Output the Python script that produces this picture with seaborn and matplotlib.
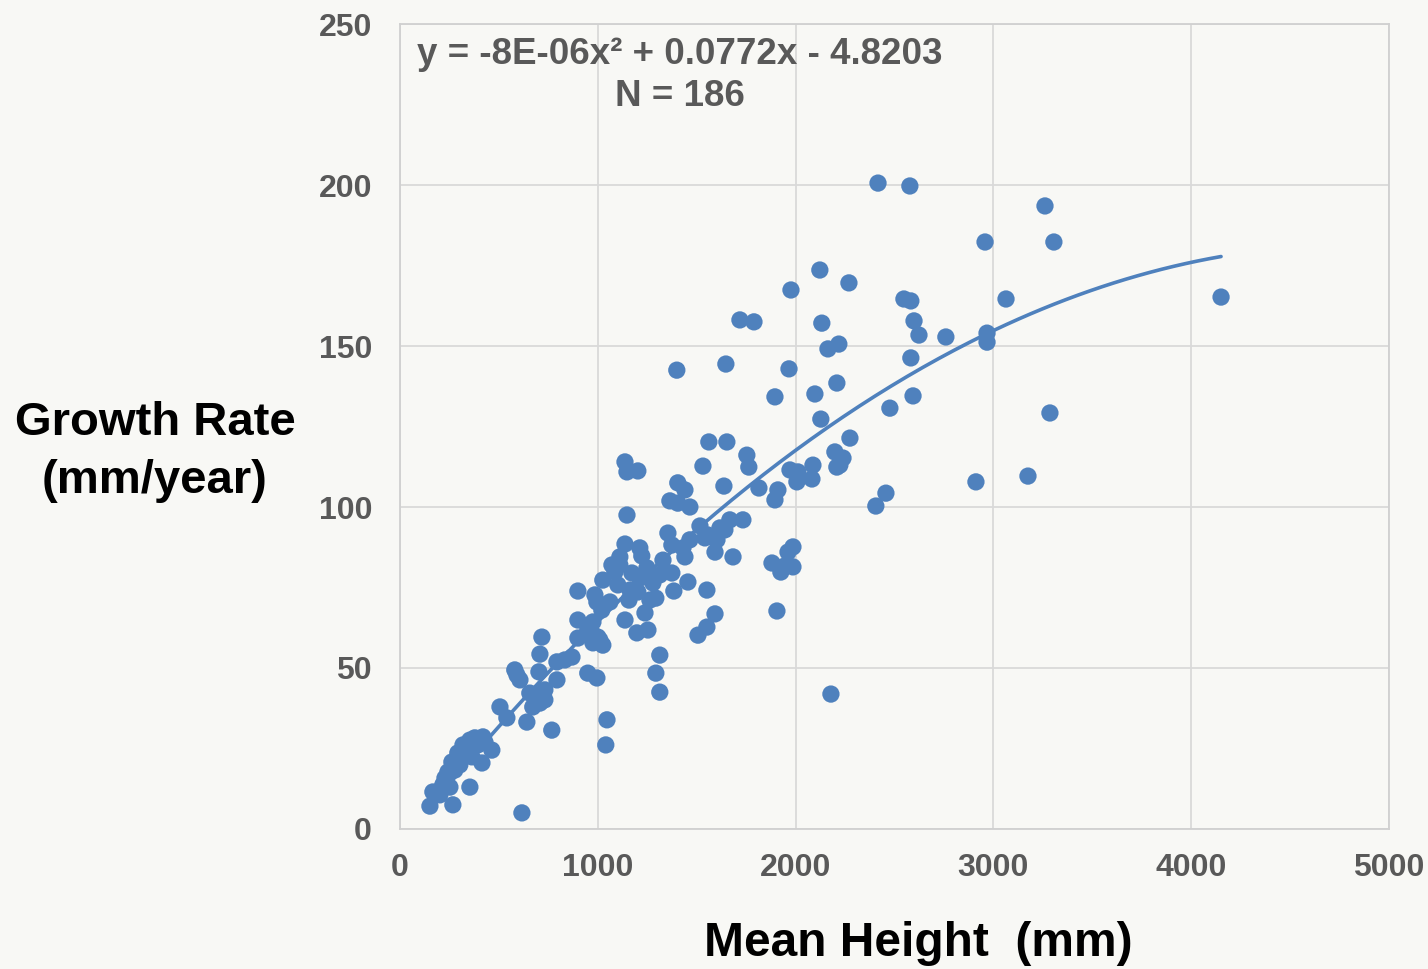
import matplotlib.pyplot as plt
import numpy as np
import pandas as pd
import seaborn as sns

# mean height (mm) and growth rate (mm/year)
height = [
    152, 268, 617, 167, 217, 253, 354, 243, 263, 293, 339, 364, 415, 379, 420, 465,
    506, 541, 642, 768, 581, 592, 657, 708, 672, 708, 703, 708, 718, 794, 794, 870,
    900, 900, 900, 950, 996, 971, 1001, 1026, 976, 996, 1026, 1062, 1047, 1041,
    228, 319, 394, 278, 202, 683, 733, 950, 1011,
    1138, 1148, 1203, 1562, 1653, 1754, 1764, 1532, 1638, 1405, 1441, 1365, 1405, 1466,
    1148, 1815, 1911, 1896, 1972, 2012, 2007, 2088, 2083, 2199, 2240, 2209, 2275,
    1517, 1618, 1668, 1734, 1557, 1603, 1593, 1684, 1355, 1375, 1441, 1138, 1112, 1223,
    1987, 1962, 1881, 1931, 1987, 1906, 2179, 1087, 1173, 1249, 1279, 1375, 1456, 1552,
    1593, 1552, 1507, 1294, 1385, 1138, 1239, 1198, 1254, 1158, 1203, 976, 1314, 1294,
    1314, 1102, 1163, 1213, 1264, 1314, 1330, 1072, 1643, 1213, 1431, 1466,
    2417, 2578, 3261, 2958, 3306, 2123, 2270, 1977, 1719, 1790, 2133, 2548, 2583, 3064,
    4151, 2599, 2624, 2760, 2968, 2968, 2219, 2164, 1648, 1967, 2583, 2209, 1896, 2098,
    2594, 2477, 3286, 2128, 1400, 2912, 3175, 2457, 2406, 2224, 1946, 1926,
    303, 354, 430, 607, 733, 1021, 1112, 1542, 986, 834,
]
growth = [
    7.1, 7.5, 5.0, 11.5, 13.7, 13.0, 13.0, 17.7, 20.8, 23.6, 24.5, 22.4, 20.5, 28.3, 28.6, 24.5,
    37.9, 34.5, 33.2, 30.7, 49.4, 47.8, 42.2, 41.0, 37.9, 39.1, 48.8, 54.3, 59.6, 51.9, 46.3, 53.4,
    59.3, 64.9, 73.9, 48.4, 46.9, 60.9, 59.6, 57.1, 57.8, 70.5, 77.3, 70.5, 33.9, 26.1,
    15.8, 26.1, 26.1, 18.3, 10.6, 41.6, 40.1, 61.8, 58.7,
    114.0, 110.9, 111.2, 120.2, 120.2, 116.1, 112.4, 112.7, 106.5, 107.5, 105.3, 101.9, 101.2, 100.0,
    97.5, 105.9, 105.3, 102.2, 111.5, 110.9, 107.8, 113.0, 108.7, 117.1, 115.2, 112.4, 121.4,
    94.1, 93.5, 96.0, 96.0, 91.3, 89.8, 86.0, 84.5, 91.9, 88.2, 84.5, 88.5, 84.5, 84.8,
    87.6, 86.0, 82.6, 81.1, 81.4, 67.7, 41.9, 79.8, 79.5, 81.1, 76.4, 79.5, 76.7, 74.2,
    66.8, 62.7, 60.2, 71.7, 73.9, 64.9, 67.1, 60.9, 61.8, 71.1, 73.6, 64.3, 54.0, 48.4,
    42.5, 75.8, 74.2, 77.9, 71.1, 78.9, 83.5, 82.0, 92.9, 87.3, 87.3, 89.8,
    200.6, 199.7, 193.5, 182.3, 182.3, 173.6, 169.6, 167.4, 158.1, 157.5, 157.1, 164.6, 164.0, 164.6,
    165.2, 157.8, 153.4, 152.8, 154.0, 151.2, 150.6, 149.1, 144.4, 142.9, 146.3, 138.5, 134.2, 135.1,
    134.5, 130.7, 129.2, 127.3, 142.5, 107.8, 109.6, 104.3, 100.3, 113.0, 81.7, 79.8,
    19.9, 27.6, 27.0, 46.3, 43.2, 68.0, 82.0, 90.4, 72.7, 52.5,
]

# polynomial trendline coefficients as printed on the chart
coef = [-8e-06, 0.0772, -4.8203]

x_ticks = [0, 1000, 2000, 3000, 4000, 5000]
y_ticks = [0, 50, 100, 150, 200, 250]

df = pd.DataFrame({"height": height, "growth": growth})
xs = np.linspace(min(height), max(height), 200)
trend = pd.DataFrame({"height": xs, "growth": np.polyval(coef, xs)})

bg = "#f8f8f5"
blue = "#4f81bd"

sns.set_theme(style="white")
plt.rcParams["font.family"] = ["Liberation Sans", "DejaVu Sans"]

fig = plt.figure(figsize=(14.28, 9.69), dpi=100, facecolor=bg)
ax = fig.add_axes([0.280, 0.1445, 0.6927, 0.8307])
ax.set_facecolor(bg)

sns.lineplot(data=trend, x="height", y="growth", ax=ax, color=blue, linewidth=2.6, zorder=2)
sns.scatterplot(data=df, x="height", y="growth", ax=ax, color=blue, s=155,
                edgecolor="none", linewidth=0, zorder=3)

ax.set_xlim(0, 5000)
ax.set_ylim(0, 250)
ax.set_xticks(x_ticks)
ax.set_yticks(y_ticks)
ax.set_xticklabels([str(v) for v in x_ticks], fontsize=23, fontweight="bold", color="#595959")
ax.set_yticklabels([str(v) for v in y_ticks], fontsize=23, fontweight="bold", color="#595959")
ax.tick_params(axis="x", length=0, pad=17)
ax.tick_params(axis="y", length=0, pad=20)
ax.grid(True, color="#d9d9d9", linewidth=1.3)
ax.set_axisbelow(True)
for sp in ax.spines.values():
    sp.set_color("#d0d0d0")
    sp.set_linewidth(1.3)

ax.set_xlabel("")
ax.set_ylabel("")
fig.text(918 / 1428, 1 - 944 / 969, "Mean Height  (mm)", ha="center", va="center",
         fontsize=34.5, fontweight="bold", color="black")
fig.text(155 / 1428, 1 - 452 / 969, "Growth Rate\n(mm/year)", ha="center", va="center",
         fontsize=34, fontweight="bold", color="black", linespacing=1.42)

fig.text(680 / 1428, 1 - 54 / 969, "y = -8E-06x\u00b2 + 0.0772x - 4.8203", ha="center",
         va="center", fontsize=26.5, fontweight="bold", color="#595959")
fig.text(680 / 1428, 1 - 97 / 969, "N = 186", ha="center", va="center",
         fontsize=26.5, fontweight="bold", color="#595959")

fig.savefig("out.png", dpi=100, facecolor=bg)
